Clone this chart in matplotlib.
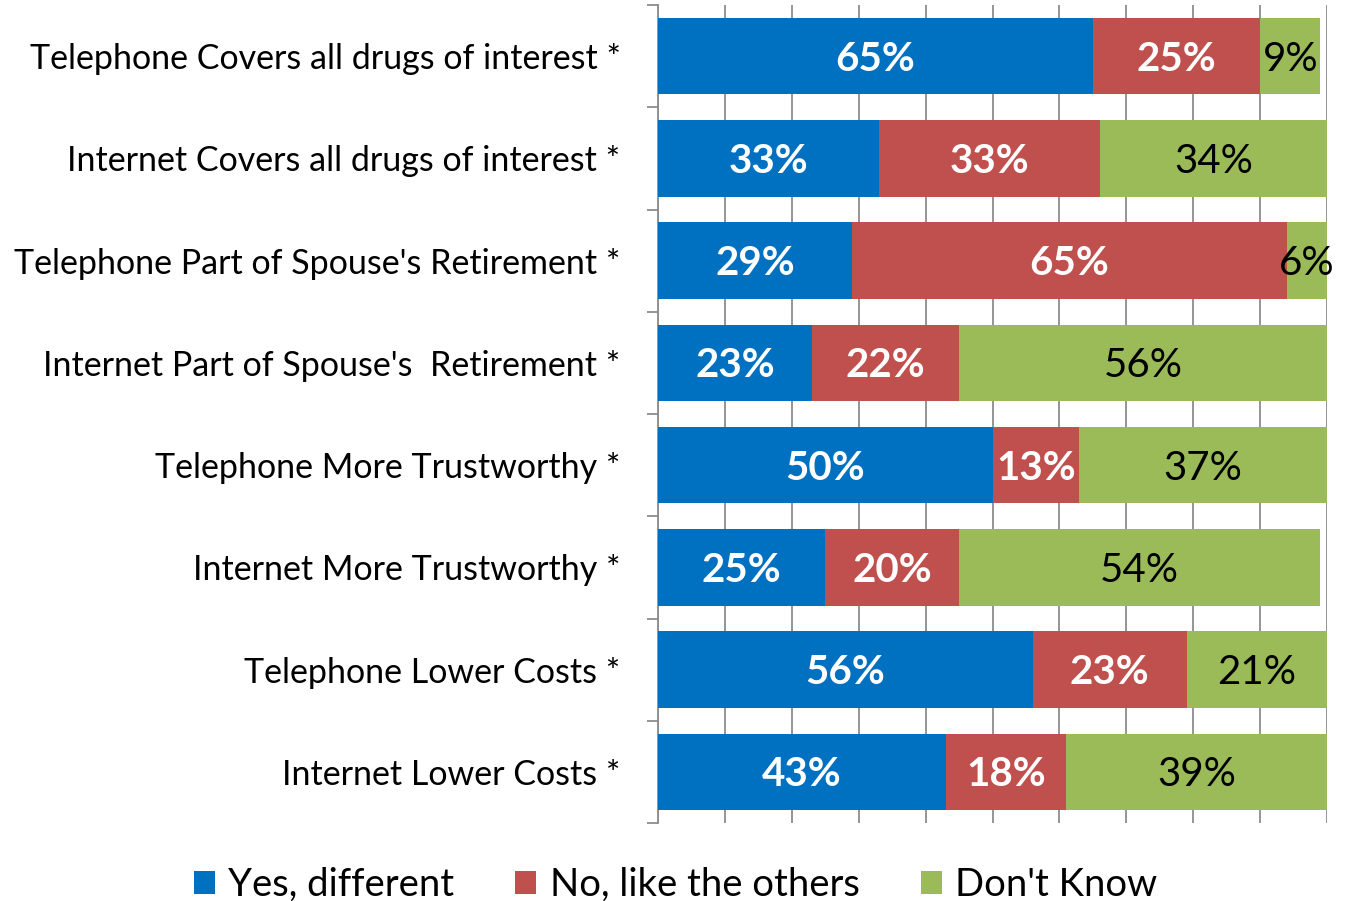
import numpy as np
import matplotlib
matplotlib.use('Agg')
import matplotlib.pyplot as plt
from matplotlib.patches import Patch

plt.rcParams['font.family'] = ['Lato', 'DejaVu Sans']

categories = ['Telephone Covers all drugs of interest *',
              'Internet Covers all drugs of interest *',
              "Telephone Part of Spouse's Retirement *",
              "Internet Part of Spouse's  Retirement *",
              'Telephone More Trustworthy *',
              'Internet More Trustworthy *',
              'Telephone Lower Costs *',
              'Internet Lower Costs *']
yes_different = [65, 33, 29, 23, 50, 25, 56, 43]
no_like_others = [25, 33, 65, 22, 13, 20, 23, 18]
dont_know = [9, 34, 6, 56, 37, 54, 21, 39]

series_names = ['Yes, different', 'No, like the others', "Don't Know"]
colors = ['#0070C0', '#C0504D', '#9BBB59']
text_colors = ['white', 'white', 'black']
text_weights = ['bold', 'bold', 'normal']

fig = plt.figure(figsize=(13.51, 9.01), dpi=100)
ax = fig.add_axes([658 / 1351, 1 - 823 / 901, 669 / 1351, 818 / 901])

y = np.arange(len(categories))
left = np.zeros(len(categories))
for vals, col, tc, tw in zip([yes_different, no_like_others, dont_know],
                             colors, text_colors, text_weights):
    vals = np.array(vals, dtype=float) / 100
    ax.barh(y, vals, left=left, height=0.75, color=col, zorder=3)
    for yi, (l, v) in enumerate(zip(left, vals)):
        # keep the label inside the visible part of a bar that runs past 100%
        cx = min(l + v / 2, (l + 1.0) / 2)
        ax.text(cx, yi + 0.03, '{:.0f}%'.format(v * 100), ha='center', va='center',
                color=tc, fontsize=29, fontweight=tw, zorder=4)
    left += vals

ax.set_xlim(0, 1)
ax.set_ylim(len(categories) - 0.5, -0.5)
ax.set_xticks(np.linspace(0, 1, 11))
ax.set_xticklabels([])
ax.tick_params(axis='x', length=0)
ax.grid(axis='x', color='#8c8c8c', linewidth=1.3, zorder=0)

ax.set_yticks(np.arange(len(categories) + 1) - 0.5, minor=True)
ax.set_yticks(y)
ax.set_yticklabels(categories, fontsize=24.5)
ax.tick_params(axis='y', which='major', length=0, pad=27)
ax.tick_params(axis='y', which='minor', length=8, width=1.3, color='#8c8c8c')

for s in ['top', 'right', 'bottom']:
    ax.spines[s].set_visible(False)
ax.spines['left'].set_color('#8c8c8c')
ax.spines['left'].set_linewidth(1.3)

handles = [Patch(facecolor=c, label=n) for c, n in zip(colors, series_names)]
fig.legend(handles=handles, loc='center', bbox_to_anchor=(0.5, 0.018), ncol=3,
           frameon=False, fontsize=27.5, handlelength=0.55, handleheight=0.55,
           handletextpad=0.35, columnspacing=1.6)

fig.savefig('out.png', dpi=100)
